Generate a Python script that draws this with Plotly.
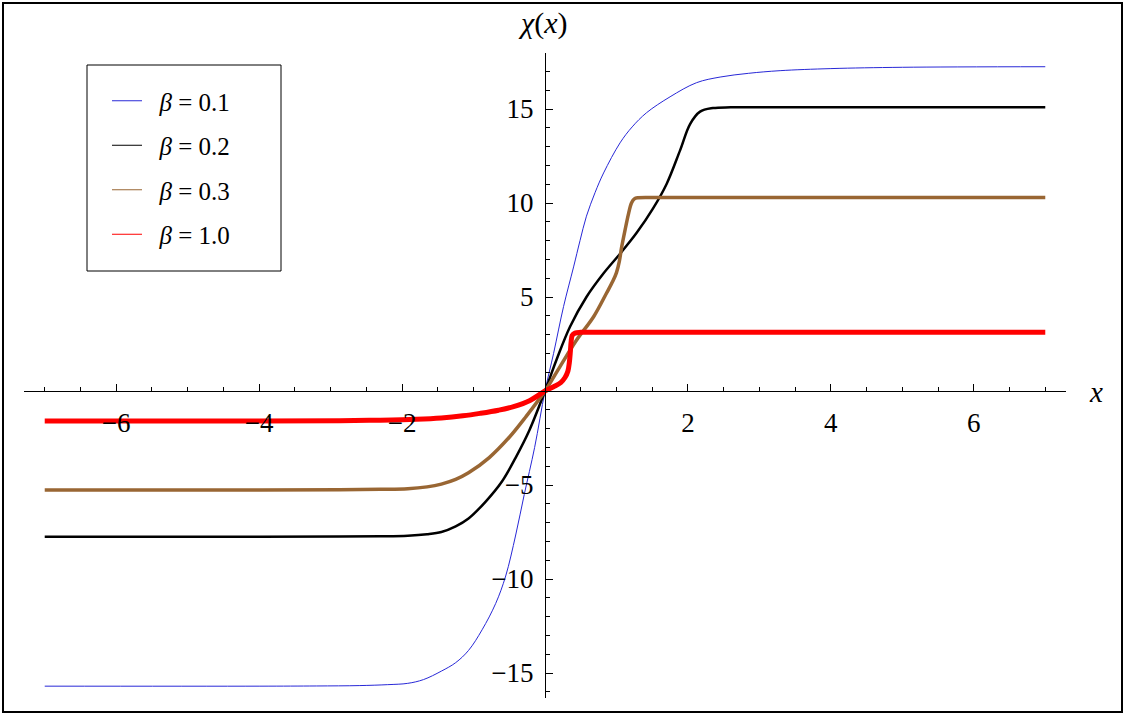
import plotly.graph_objects as go

# ---- data ----
labels = ["<i>β</i> = 0.1", "<i>β</i> = 0.2", "<i>β</i> = 0.3", "<i>β</i> = 1.0"]

b01_x = [-7, -4, -3.2, -2.6, -2.2, -1.92, -1.7, -1.45, -1.25, -1.07, -0.88, -0.69, -0.55, -0.41, -0.29, -0.145, 0,
         0.12, 0.26, 0.40, 0.49, 0.58, 0.70, 0.82, 1.05, 1.22, 1.42, 1.75, 2.12, 2.45, 2.85, 3.29, 4.0, 5.0, 7]
b01_y = [-15.7, -15.7, -15.69, -15.67, -15.62, -15.55, -15.35, -14.9, -14.45, -13.8, -12.7, -11.3, -9.84, -7.66, -5.5, -3.0, 0,
         2.0, 4.5, 6.6, 8.0, 9.3, 10.55, 11.6, 13.2, 14.05, 14.8, 15.65, 16.4, 16.7, 16.9, 17.04, 17.15, 17.22, 17.25]

b02_x = [-7, -4, -2.87, -2.3, -1.92, -1.65, -1.45, -1.25, -1.07, -0.83, -0.6, -0.41, -0.22, 0,
         0.16, 0.35, 0.58, 0.82, 1.05, 1.28, 1.51, 1.70, 1.89, 2.03, 2.17, 2.35, 2.6, 3, 7]
b02_y = [-7.75, -7.75, -7.74, -7.73, -7.7, -7.62, -7.5, -7.2, -6.78, -5.88, -4.8, -3.54, -2.1, 0,
         1.65, 3.42, 5.0, 6.26, 7.3, 8.4, 9.7, 11.0, 12.8, 14.2, 14.86, 15.05, 15.09, 15.1, 15.1]

b03_x = [-7, -4, -2.87, -2.3, -1.92, -1.65, -1.45, -1.25, -1.07, -0.78, -0.5, -0.27, 0,
         0.21, 0.44, 0.68, 0.86, 0.95, 1.0, 1.04, 1.07, 1.12, 1.17, 1.21, 1.25, 1.3, 1.5, 7]
b03_y = [-5.27, -5.27, -5.25, -5.23, -5.2, -5.1, -4.95, -4.7, -4.35, -3.54, -2.46, -1.38, 0,
         1.3, 2.7, 3.95, 5.2, 5.85, 6.3, 6.9, 7.6, 8.56, 9.45, 10.0, 10.22, 10.28, 10.3, 10.3]

b10_x = [-7, -4, -2.87, -2.31, -1.8, -1.45, -1.15, -0.91, -0.65, -0.44, -0.21, 0,
         0.12, 0.22, 0.28, 0.32, 0.34, 0.355, 0.365, 0.38, 0.42, 0.5, 1, 7]
b10_y = [-1.6, -1.6, -1.58, -1.55, -1.5, -1.43, -1.32, -1.19, -1.02, -0.83, -0.5, 0,
         0.23, 0.45, 0.72, 1.05, 1.5, 2.1, 2.6, 2.95, 3.08, 3.12, 3.12, 3.12]

x_ticks = [-6, -4, -2, 2, 4, 6]
y_ticks = [-15, -10, -5, 5, 10, 15]

# ---- styling ----
colors = ["rgb(40,40,215)", "rgb(0,0,0)", "rgb(153,102,51)", "rgb(255,0,0)"]
widths = [1, 2.5, 3.5, 5]
FONT = "Liberation Serif"

W, H = 1126, 717
ML, MR, MT, MB = 24, 60, 53, 19
XR = [-7.29, 7.29]
YR = [-16.33, 17.98]

fig = go.Figure()
series = [(b01_x, b01_y), (b02_x, b02_y), (b03_x, b03_y), (b10_x, b10_y)]
for (xs, ys), c, w in zip(series, colors, widths):
    fig.add_trace(go.Scatter(x=xs, y=ys, mode="lines", showlegend=False,
                             line=dict(color=c, width=w, shape="spline", smoothing=1.0),
                             hoverinfo="skip"))
# thin legend samples
for i, (lab, c) in enumerate(zip(labels, colors)):
    fig.add_trace(go.Scatter(x=[None], y=[None], mode="lines", name="&nbsp;&nbsp;" + lab,
                             legendgroup=f"g{i}", line=dict(color=c, width=1)))

pw = W - ML - MR
ph = H - MT - MB

def px2paper_x(px):
    return (px - ML) / pw

def px2paper_y(py):
    return (H - MB - py) / ph

fig.update_layout(
    width=W, height=H,
    margin=dict(l=ML, r=MR, t=MT, b=MB),
    paper_bgcolor="white", plot_bgcolor="white",
    font=dict(family=FONT, color="black"),
    xaxis=dict(range=XR, tickvals=x_ticks, ticks="inside", ticklen=7, tickwidth=1,
               tickcolor="black", showline=True, linecolor="black", linewidth=1,
               showgrid=False, zeroline=False, anchor="free",
               position=(0 - YR[0]) / (YR[1] - YR[0]),
               tickfont=dict(size=27, family=FONT), ticklabelstandoff=8,
               minor=dict(dtick=0.5, tick0=0, ticks="inside", ticklen=4,
                          tickcolor="black", showgrid=False)),
    yaxis=dict(range=YR, tickvals=y_ticks, ticks="inside", ticklen=7, tickwidth=1,
               tickcolor="black", showline=True, linecolor="black", linewidth=1,
               showgrid=False, zeroline=False, anchor="free",
               position=(0 - XR[0]) / (XR[1] - XR[0]),
               tickfont=dict(size=27, family=FONT), ticklabelstandoff=6,
               minor=dict(dtick=1, tick0=0, ticks="inside", ticklen=4,
                          tickcolor="black", showgrid=False)),
    legend=dict(x=px2paper_x(107), y=px2paper_y(78), xanchor="left", yanchor="top",
                bgcolor="rgba(0,0,0,0)", borderwidth=0, tracegroupgap=9,
                font=dict(size=25, family=FONT, color="black")),
    showlegend=True,
)

# legend box and outer frame
fig.add_shape(type="rect", xref="paper", yref="paper",
              x0=px2paper_x(87), x1=px2paper_x(281), y0=px2paper_y(271), y1=px2paper_y(65),
              line=dict(color="black", width=1), fillcolor="rgba(0,0,0,0)", layer="below")
fig.add_shape(type="rect", xref="paper", yref="paper",
              x0=px2paper_x(3), x1=px2paper_x(1122), y0=px2paper_y(712), y1=px2paper_y(3),
              line=dict(color="black", width=2), fillcolor="rgba(0,0,0,0)")

fig.add_annotation(text="<i>χ</i>(<i>x</i>)", xref="paper", yref="paper",
                   x=px2paper_x(543), y=px2paper_y(23), showarrow=False,
                   font=dict(size=30, family=FONT), xanchor="center", yanchor="middle")
fig.add_annotation(text="<i>x</i>", xref="paper", yref="paper",
                   x=px2paper_x(1096), y=px2paper_y(392), showarrow=False,
                   font=dict(size=29, family=FONT), xanchor="center", yanchor="middle")

fig.write_html("out.html", config={"displayModeBar": False},
               post_script="document.body.style.margin='0';document.body.style.padding='0';"
                           "document.body.style.overflow='hidden';")
